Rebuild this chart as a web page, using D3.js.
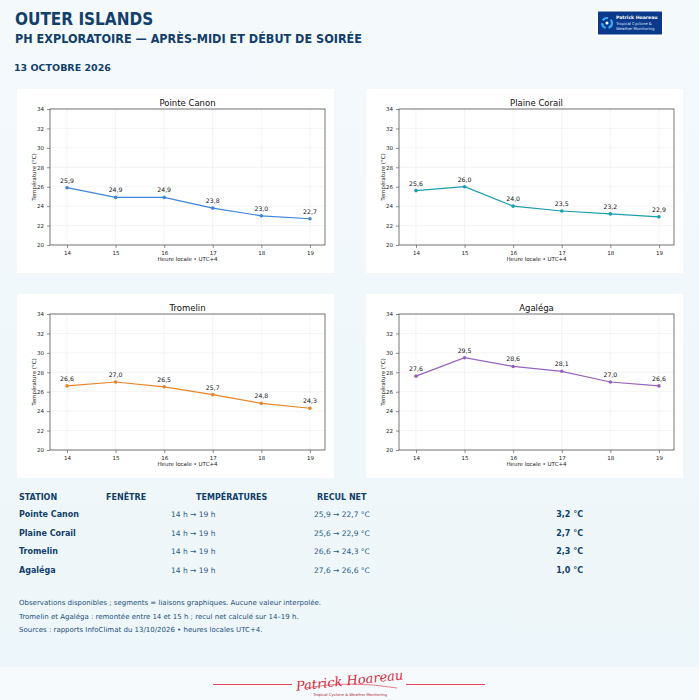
<!DOCTYPE html>
<html lang="fr">
<head>
<meta charset="UTF-8" />
<title>Outer Islands - PH exploratoire</title>
<script src="https://d3js.org/d3.v7.min.js"></script>
<style>
    body {
        margin: 0;
        font-family: 'DejaVu Sans', sans-serif;
        background: #f3f8fb;
    }
    svg { display: block; }
</style>
</head>
<body>
<svg id="chart"></svg>
<script>
    // Data
    const hours = [14, 15, 16, 17, 18, 19];
    const stations = ["Pointe Canon", "Plaine Corail", "Tromelin", "Agaléga"];
    const pointeCanon = [25.9, 24.9, 24.9, 23.8, 23.0, 22.7];
    const plaineCorail = [25.6, 26.0, 24.0, 23.5, 23.2, 22.9];
    const tromelin = [26.6, 27.0, 26.5, 25.7, 24.8, 24.3];
    const agalega = [27.6, 29.5, 28.6, 28.1, 27.0, 26.6];
    const series = [pointeCanon, plaineCorail, tromelin, agalega];
    const colors = ["#3d86e0", "#1a9fae", "#e8842a", "#9563bd"];
    const yTicks = [20, 22, 24, 26, 28, 30, 32, 34];
    const tableHeaders = ["STATION", "FENÊTRE", "TEMPÉRATURES", "RECUL NET"];
    const notes = [
        "Observations disponibles ; segments = liaisons graphiques. Aucune valeur interpolée.",
        "Tromelin et Agaléga : remontée entre 14 et 15 h ; recul net calculé sur 14–19 h.",
        "Sources : rapports InfoClimat du 13/10/2026 • heures locales UTC+4."
    ];

    const W = 699, H = 700;
    const fmt = v => v.toFixed(1).replace(".", ",");
    const navy = "#123f6b";

    const svg = d3.select("#chart").attr("width", W).attr("height", H);

    // Background
    const defs = svg.append("defs");
    const grad = defs.append("linearGradient").attr("id", "bg").attr("x1", 0).attr("y1", 0).attr("x2", 0).attr("y2", 1);
    grad.append("stop").attr("offset", "0%").attr("stop-color", "#f4f9fc");
    grad.append("stop").attr("offset", "100%").attr("stop-color", "#edf6fa");
    svg.append("rect").attr("width", W).attr("height", H).attr("fill", "url(#bg)");
    svg.append("rect").attr("y", 667).attr("width", W).attr("height", 33).attr("fill", "#f6fafc");

    // Header
    svg.append("text").attr("x", 15).attr("y", 25)
        .attr("font-family", "'DejaVu Sans Condensed', 'DejaVu Sans', sans-serif")
        .attr("font-size", 17).attr("font-weight", "bold").attr("fill", navy)
        .text("OUTER ISLANDS");
    svg.append("text").attr("x", 15).attr("y", 43)
        .attr("font-family", "'DejaVu Sans Condensed', 'DejaVu Sans', sans-serif")
        .attr("font-size", 12.5).attr("font-weight", "bold").attr("fill", navy)
        .text("PH EXPLORATOIRE — APRÈS-MIDI ET DÉBUT DE SOIRÉE");
    svg.append("text").attr("x", 14).attr("y", 71)
        .attr("font-size", 9.5).attr("font-weight", "bold").attr("fill", navy)
        .text("13 OCTOBRE 2026");

    // Logo
    const logo = svg.append("g").attr("transform", "translate(596,10)");
    logo.append("rect").attr("width", 68).attr("height", 27).attr("fill", "#ffffff");
    logo.append("rect").attr("x", 2).attr("y", 1.5).attr("width", 64).attr("height", 23).attr("fill", "#0b3a8c");
    logo.append("circle").attr("cx", 11).attr("cy", 13).attr("r", 5).attr("fill", "none")
        .attr("stroke", "#3fa9f5").attr("stroke-width", 2.2).attr("stroke-dasharray", "6 3");
    logo.append("circle").attr("cx", 11).attr("cy", 13).attr("r", 1.5).attr("fill", "#ffffff");
    logo.append("text").attr("x", 20).attr("y", 9).attr("font-size", 4.6).attr("font-weight", "bold")
        .attr("fill", "#fff").text("Patrick Hoareau");
    logo.append("text").attr("x", 20).attr("y", 14.5).attr("font-size", 3.9).attr("fill", "#dfe9ff")
        .text("Tropical Cyclone &");
    logo.append("text").attr("x", 20).attr("y", 19.5).attr("font-size", 3.9).attr("fill", "#dfe9ff")
        .text("Weather Monitoring");

    // Panels
    const panelW = 317, panelH = 184;
    const panelPos = [[17, 89], [366, 89], [17, 294], [366, 294]];
    const plot = { left: 33, top: 20, width: 275, height: 136 };

    const x = d3.scaleLinear().domain([13.65, 19.31]).range([0, plot.width]);
    const y = d3.scaleLinear().domain([20, 34]).range([plot.height, 0]);

    stations.forEach((name, i) => {
        const [px, py] = panelPos[i];
        const panel = svg.append("g").attr("transform", `translate(${px},${py})`);
        panel.append("rect").attr("width", panelW).attr("height", panelH).attr("fill", "#ffffff");

        const g = panel.append("g").attr("transform", `translate(${plot.left},${plot.top})`);

        // grid
        g.append("g").selectAll("line").data(yTicks).join("line")
            .attr("x1", 0).attr("x2", plot.width)
            .attr("y1", d => y(d)).attr("y2", d => y(d))
            .attr("stroke", "#ececec").attr("stroke-width", 0.6);
        g.append("g").selectAll("line").data(hours).join("line")
            .attr("y1", 0).attr("y2", plot.height)
            .attr("x1", d => x(d)).attr("x2", d => x(d))
            .attr("stroke", "#ececec").attr("stroke-width", 0.6);

        // axes
        const xAxis = g.append("g").attr("transform", `translate(0,${plot.height})`)
            .call(d3.axisBottom(x).tickValues(hours).tickFormat(d3.format("d")).tickSize(3).tickPadding(3));
        const yAxis = g.append("g")
            .call(d3.axisLeft(y).tickValues(yTicks).tickFormat(d3.format("d")).tickSize(3).tickPadding(3));
        [xAxis, yAxis].forEach(ax => {
            ax.select(".domain").remove();
            ax.selectAll("line").attr("stroke", "#444").attr("stroke-width", 0.6);
            ax.selectAll("text").attr("font-size", 5.5).attr("fill", "#222")
                .attr("font-family", "'DejaVu Sans', sans-serif");
        });

        // frame
        g.append("rect").attr("width", plot.width).attr("height", plot.height)
            .attr("fill", "none").attr("stroke", "#555").attr("stroke-width", 0.8);

        // labels
        panel.append("text").attr("x", plot.left + plot.width / 2).attr("y", 17)
            .attr("text-anchor", "middle").attr("font-size", 8.5).attr("fill", "#111")
            .text(name);
        panel.append("text").attr("x", plot.left + plot.width / 2).attr("y", plot.top + plot.height + 16)
            .attr("text-anchor", "middle").attr("font-size", 5.5).attr("fill", "#222")
            .text("Heure locale • UTC+4");
        panel.append("text")
            .attr("transform", `translate(${plot.left - 14},${plot.top + plot.height / 2}) rotate(-90)`)
            .attr("text-anchor", "middle").attr("font-size", 5.5).attr("fill", "#222")
            .text("Température (°C)");

        // line + points
        const data = hours.map((h, k) => ({ h: h, v: series[i][k] }));
        const line = d3.line().x(d => x(d.h)).y(d => y(d.v));
        g.append("path").datum(data).attr("d", line)
            .attr("fill", "none").attr("stroke", colors[i]).attr("stroke-width", 1.2);
        g.selectAll(".pt").data(data).join("circle").attr("class", "pt")
            .attr("cx", d => x(d.h)).attr("cy", d => y(d.v)).attr("r", 1.8)
            .attr("fill", colors[i]);
        g.selectAll(".lbl").data(data).join("text").attr("class", "lbl")
            .attr("x", d => x(d.h)).attr("y", d => y(d.v) - 5)
            .attr("text-anchor", "middle").attr("font-size", 6.2).attr("fill", "#111")
            .text(d => fmt(d.v));
    });

    // Table
    const colX = [19, 106, 196, 317];
    svg.append("g").selectAll("text").data(tableHeaders).join("text")
        .attr("x", (d, i) => colX[i]).attr("y", 500)
        .attr("font-size", 8).attr("font-weight", "bold").attr("fill", navy)
        .text(d => d);

    stations.forEach((name, i) => {
        const ry = 517 + i * 18.7;
        const vals = series[i];
        svg.append("text").attr("x", 19).attr("y", ry)
            .attr("font-size", 8).attr("font-weight", "bold").attr("fill", navy).text(name);
        svg.append("text").attr("x", 171).attr("y", ry)
            .attr("font-size", 7.5).attr("fill", "#2b5a86").text("14 h → 19 h");
        svg.append("text").attr("x", 314).attr("y", ry)
            .attr("font-size", 7.5).attr("fill", "#2b5a86")
            .text(`${fmt(vals[0])} → ${fmt(vals[vals.length - 1])} °C`);
        svg.append("text").attr("x", 583).attr("y", ry).attr("text-anchor", "end")
            .attr("font-size", 8).attr("font-weight", "bold").attr("fill", navy)
            .text(`${fmt(vals[0] - vals[vals.length - 1])} °C`);
    });

    // Notes
    svg.append("g").selectAll("text").data(notes).join("text")
        .attr("x", 19).attr("y", (d, i) => 605 + i * 13.5)
        .attr("font-size", 7).attr("fill", "#1f4f7e")
        .text(d => d);

    // Footer signature
    const foot = svg.append("g");
    foot.append("line").attr("x1", 213).attr("x2", 292).attr("y1", 684.5).attr("y2", 684.5)
        .attr("stroke", "#e0485a").attr("stroke-width", 1);
    foot.append("line").attr("x1", 406).attr("x2", 485).attr("y1", 684.5).attr("y2", 684.5)
        .attr("stroke", "#e0485a").attr("stroke-width", 1);
    foot.append("text").attr("x", 350).attr("y", 685)
        .attr("text-anchor", "middle").attr("font-family", "'DejaVu Serif', serif")
        .attr("font-style", "italic").attr("font-size", 13).attr("fill", "#d62a3e")
        .attr("transform", "rotate(-6,350,685)")
        .text("Patrick Hoareau");
    foot.append("path").attr("d", "M 305 688 Q 350 680 397 688")
        .attr("fill", "none").attr("stroke", "#d62a3e").attr("stroke-width", 0.6);
    foot.append("text").attr("x", 350).attr("y", 696)
        .attr("text-anchor", "middle").attr("font-size", 3.8).attr("fill", "#b0203a")
        .text("Tropical Cyclone & Weather Monitoring");
</script>
</body>
</html>
